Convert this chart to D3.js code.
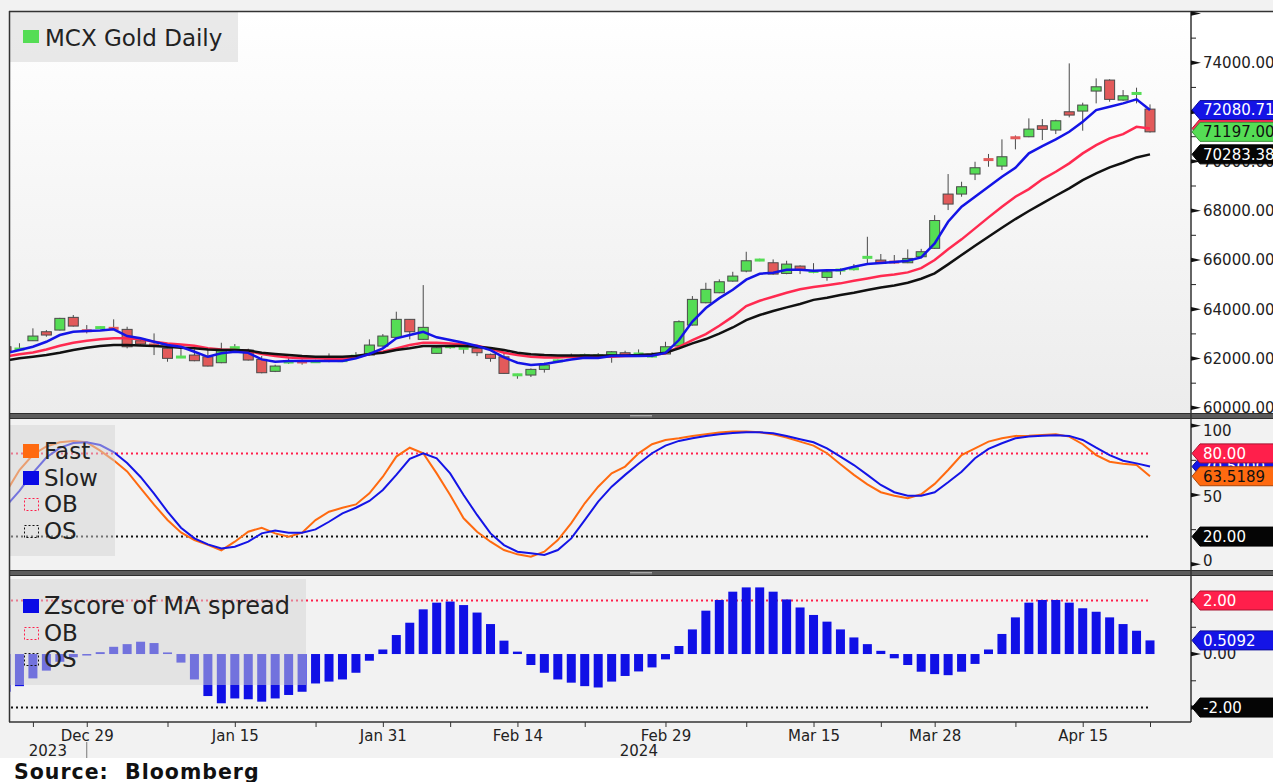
<!DOCTYPE html>
<html>
<head>
<meta charset="utf-8">
<script src="https://cdn.jsdelivr.net/npm/d3@7"></script>
<style>
body { margin: 0; background: #f2f2f2; }
svg { display: block; font-family: "DejaVu Sans", Verdana, sans-serif; }
</style>
</head>
<body>
<div id="chart"></div>
<script>
// trading days shown on the chart (first one sits just left of the frame)
var dates = ["2023-12-20","2023-12-21","2023-12-22","2023-12-26","2023-12-27","2023-12-28","2023-12-29",
    "2024-01-01","2024-01-02","2024-01-03","2024-01-04","2024-01-05","2024-01-08","2024-01-09","2024-01-10","2024-01-11","2024-01-12",
    "2024-01-15","2024-01-16","2024-01-17","2024-01-18","2024-01-19","2024-01-22","2024-01-23","2024-01-24","2024-01-25","2024-01-29","2024-01-30","2024-01-31",
    "2024-02-01","2024-02-02","2024-02-05","2024-02-06","2024-02-07","2024-02-08","2024-02-09","2024-02-12","2024-02-13","2024-02-14","2024-02-15","2024-02-16",
    "2024-02-19","2024-02-20","2024-02-21","2024-02-22","2024-02-23","2024-02-26","2024-02-27","2024-02-28","2024-02-29",
    "2024-03-01","2024-03-04","2024-03-05","2024-03-06","2024-03-07","2024-03-08","2024-03-11","2024-03-12","2024-03-13","2024-03-14","2024-03-15",
    "2024-03-18","2024-03-19","2024-03-20","2024-03-21","2024-03-22","2024-03-25","2024-03-26","2024-03-27","2024-03-28",
    "2024-04-01","2024-04-02","2024-04-03","2024-04-04","2024-04-05","2024-04-08","2024-04-09","2024-04-10","2024-04-11","2024-04-12",
    "2024-04-15","2024-04-16","2024-04-17","2024-04-18","2024-04-19","2024-04-22"];

var openPx = [62478,62350,62722,63087,63155,63670,63140,63230,63260,63183,
    62722,62560,62413,62040,62141,62070,61830,62400,62345,61965,
    61480,61803,61870,61850,61950,61900,62080,62141,62506,62860,
    63590,62778,62210,62470,62400,62413,62170,62070,61320,61330,
    61560,61880,62060,62110,62100,62141,62235,62170,62090,62184,
    62510,63358,64263,64669,65142,65548,65980,65886,65453,65751,
    65480,65291,65580,65589,66080,65995,65967,65886,66130,66472,
    68673,68673,69485,70120,69809,70998,70998,71444,71270,72012,
    72040,72852,73298,72487,72740,72120];
var highPx = [62520,62620,63225,63155,63650,63765,63358,63300,63590,63290,
    62750,63020,62430,62478,62370,62413,62640,62587,62400,62100,
    61750,62046,61960,61950,62208,61960,62260,62778,62993,63900,
    63600,64980,62470,62560,62440,62520,62200,62275,61380,61600,
    61830,61960,62200,62200,62220,62300,62316,62370,62250,62680,
    63550,64534,65075,65213,65520,66333,66050,66022,65967,65780,
    65870,65560,65660,65833,66940,66240,66200,66430,66450,67818,
    69485,69173,69984,70300,70892,71050,71744,71716,71690,73975,
    72380,73367,73330,72893,72989,72312];
var lowPx = [62280,62330,62710,62885,63140,63300,63020,63200,63170,62413,
    62520,62141,61870,62020,61890,61680,61810,62380,61920,61400,
    61450,61780,61750,61820,61850,61880,62030,62120,62480,62840,
    62778,62760,62200,62400,62200,62100,61870,61380,61180,61250,
    61430,61860,62020,62080,62080,61830,62080,62160,62040,62170,
    62500,63340,64240,64650,65120,65500,65950,65400,65420,65427,
    65460,65156,65400,65570,65833,65840,65840,65870,66110,66450,
    68024,68565,69241,69781,69647,70487,70980,70864,71107,71785,
    71243,72353,72420,72460,72353,71170];
var closePx = [62316,62420,62912,62953,63630,63317,63120,63280,63190,62478,
    62587,62540,62007,62080,61911,61695,62316,62478,61939,61424,
    61695,61911,61850,61890,61980,61930,62110,62547,62912,63590,
    63087,63265,62440,62490,62430,62235,62007,61397,61360,61560,
    61736,61930,62080,62130,62120,62275,62100,62200,62110,62478,
    63495,64400,64807,65115,65345,65967,66010,65427,65832,65589,
    65589,65520,65600,65700,66130,65860,65860,66062,66333,67600,
    68267,68970,69741,70024,70187,70917,71310,71298,71647,71878,
    72284,73026,72515,72660,72770,71197];

// moving averages on the price panel
var maFast = [62220,62345,62478,62680,62953,63087,63115,63140,63183,62912,
    62820,62680,62547,62478,62275,62070,62210,62275,62230,61965,
    61870,61897,61897,61897,61897,61897,62007,62184,62413,62820,
    62953,63087,62860,62750,62640,62506,62340,62046,61830,61736,
    61776,61870,61965,62030,62020,62100,62110,62100,62110,62230,
    62750,63500,64050,64450,64790,65200,65440,65480,65600,65600,
    65560,65580,65590,65724,65833,65873,65914,65967,66103,66671,
    67549,68158,68564,68970,69375,69740,70324,70620,70892,71200,
    71606,72081,72215,72353,72515,72080.71];
var maMid = [62080,62170,62248,62370,62519,62640,62722,62778,62820,62820,
    62778,62680,62615,62574,62519,62413,62370,62345,62310,62184,
    62100,62046,62007,62007,61993,61993,62046,62184,62275,62413,
    62547,62640,62640,62613,62574,62520,62400,62235,62141,62073,
    62046,62046,62073,62073,62073,62073,62100,62110,62141,62210,
    62478,62750,62990,63330,63700,64130,64345,64507,64670,64807,
    64900,64970,65050,65156,65250,65345,65410,65495,65670,65995,
    66430,66835,67280,67727,68158,68564,68875,69270,69578,69919,
    70324,70661,70932,71107,71403,71337];
var maSlow = [61920,62007,62070,62141,62235,62345,62440,62506,62547,62547,
    62533,62506,62478,62440,62413,62370,62345,62345,62330,62235,
    62184,62141,62100,62073,62073,62073,62100,62184,62235,62345,
    62413,62506,62506,62506,62506,62480,62430,62345,62235,62170,
    62141,62127,62127,62127,62127,62127,62127,62141,62170,62235,
    62413,62615,62790,63010,63260,63560,63765,63927,64076,64210,
    64380,64470,64575,64670,64780,64886,64967,65075,65237,65454,
    65820,66198,66575,66940,67306,67659,67984,68294,68605,68905,
    69241,69513,69756,69943,70160,70283.38];

// stochastic panel
var stochFast = [52,68,79,85,88,89,88,82,75,67,
    55,43,32,23,17.5,14,10,16.3,23.5,26.4,
    22.3,19.9,22.8,31.9,37.9,40.8,43.2,51.2,63.2,77.7,
    84.1,80.1,65.6,50,33.2,23.5,16.3,10.3,7.2,5.5,
    9.1,17.5,29.7,44,56,65.6,70.5,80,86.6,89.7,
    90.9,92.6,93.8,95,95.7,95.7,95.2,93.8,91.4,88.5,
    85.6,80.1,72.1,64.5,57.7,52,49.5,47.6,50.5,58,
    68,78.8,83.6,88.5,90.9,92.6,92.8,93.3,93.8,92.1,
    86.6,78.8,74,72.6,71.6,63.5189];
var stochSlow = [42,53,66,77,84,87.5,88,86,81,73,
    63,51,38,26.4,18.7,14.4,11.5,12.7,16.3,22.3,
    24.3,22.8,22.8,25.2,30.7,36.7,40.8,45.7,53.6,64.5,
    76,80.1,76.5,65.6,50,35.6,22.3,13.9,9.1,7.9,
    6.7,10.3,18.7,31.9,45.2,56,64.5,72.5,80.1,85.6,
    89,90.9,92.6,93.8,94.7,95.2,95.2,94.5,92.6,90.2,
    88,83.6,77.7,71.6,64.5,57.2,52,49.5,49.5,52,
    59.2,66.8,76.5,83.2,87.3,90.9,92.1,92.8,93.1,92.6,
    89.7,84.1,78.8,74.7,72.8,70.5];
var stochOB = 80, stochOS = 20;

// zscore of MA spread
var zscore = [-1.41,-1.20,-0.91,-0.62,-0.29,-0.12,-0.05,0.07,0.27,0.37,
    0.46,0.41,0.06,-0.32,-0.95,-1.57,-1.84,-1.66,-1.69,-1.78,
    -1.66,-1.53,-1.41,-1.10,-1.03,-0.95,-0.70,-0.25,0.17,0.71,
    1.17,1.67,1.92,1.96,1.83,1.55,1.12,0.50,0.09,-0.41,
    -0.70,-0.95,-1.07,-1.20,-1.25,-1.03,-0.82,-0.65,-0.50,-0.20,
    0.30,0.92,1.62,2.02,2.33,2.49,2.49,2.33,2.04,1.74,
    1.46,1.21,0.92,0.62,0.37,0.12,-0.16,-0.41,-0.66,-0.75,
    -0.79,-0.66,-0.37,0.17,0.75,1.37,1.92,2.02,2.02,1.92,
    1.71,1.58,1.37,1.12,0.87,0.5092];
var zOB = 2, zOS = -2;

// x axis ticks (blank ones are unlabeled tick marks)
var tickDates = ["2023-12-22","2023-12-29","2024-01-08","2024-01-15","2024-01-23","2024-01-31","2024-02-07","2024-02-14",
    "2024-02-21","2024-02-29","2024-03-08","2024-03-15","2024-03-22","2024-03-28","2024-04-08","2024-04-15","2024-04-22"];
var tickNames = ["","Dec 29","","Jan 15","","Jan 31","","Feb 14","","Feb 29","","Mar 15","","Mar 28","","Apr 15",""];
var yearNames = ["2023", "2024"];

var priceTicks = [60000,62000,64000,66000,68000,70000,72000,74000,76000];
var priceMinor = [61000,63000,65000,67000,69000,71000,73000,75000];

var W = 1273, H = 782;
var plotL = 9, plotR = 1191;
var pricePanel = {top: 12, bottom: 413};
var stochPanel = {top: 419, bottom: 570};
var zPanel = {top: 576, bottom: 722};

var svg = d3.select("#chart").append("svg")
    .attr("width", W)
    .attr("height", H);

var x = d3.scalePoint().domain(dates).range([6, 1150]);
var yPrice = d3.scaleLinear().domain([59790, 76060]).range([pricePanel.bottom, pricePanel.top]);
var yStoch = d3.scaleLinear().domain([-4.1, 104.8]).range([stochPanel.bottom, stochPanel.top]);
var yZ = d3.scaleLinear().domain([-2.54, 2.916]).range([zPanel.bottom, zPanel.top]);

var defs = svg.append("defs");
var grad = defs.append("linearGradient").attr("id", "topGrad")
    .attr("x1", 0).attr("y1", 0).attr("x2", 0).attr("y2", 1);
grad.append("stop").attr("offset", "0%").attr("stop-color", "#ffffff");
grad.append("stop").attr("offset", "100%").attr("stop-color", "#ececec");

[pricePanel, stochPanel, zPanel].forEach(function(p, i) {
    defs.append("clipPath").attr("id", "clip" + i)
        .append("rect")
        .attr("x", plotL).attr("y", p.top)
        .attr("width", plotR - plotL).attr("height", p.bottom - p.top);
});

// backgrounds
svg.append("rect").attr("width", W).attr("height", H).attr("fill", "#f2f2f2");
svg.append("rect").attr("x", 0).attr("y", 758).attr("width", W).attr("height", H - 758).attr("fill", "#ffffff");
svg.append("rect").attr("x", plotL).attr("y", pricePanel.top)
    .attr("width", plotR - plotL).attr("height", pricePanel.bottom - pricePanel.top)
    .attr("fill", "url(#topGrad)");
svg.append("rect").attr("x", plotR).attr("y", pricePanel.top)
    .attr("width", W - plotR).attr("height", pricePanel.bottom - pricePanel.top)
    .attr("fill", "#ffffff");

// ---------- price panel ----------
var candles = dates.map(function(d, i) {
    return {date: d, o: openPx[i], h: highPx[i], l: lowPx[i], c: closePx[i]};
});

var priceG = svg.append("g").attr("clip-path", "url(#clip0)");

priceG.selectAll("line.wick")
    .data(candles)
    .enter()
    .append("line")
    .attr("class", "wick")
    .attr("x1", function(d) { return x(d.date); })
    .attr("x2", function(d) { return x(d.date); })
    .attr("y1", function(d) { return yPrice(d.h); })
    .attr("y2", function(d) { return yPrice(d.l); })
    .attr("stroke", "#4a4a4a")
    .attr("stroke-width", 1);

priceG.selectAll("rect.body")
    .data(candles)
    .enter()
    .append("rect")
    .attr("class", "body")
    .each(function(d) {
        var top = yPrice(Math.max(d.o, d.c));
        var bot = yPrice(Math.min(d.o, d.c));
        var r = d3.select(this)
            .attr("fill", d.c >= d.o ? "#55dd55" : "#e25a5a");
        if (bot - top < 3) {//doji: just a coloured dash
            r.attr("x", x(d.date) - 5).attr("width", 10)
                .attr("y", (top + bot) / 2 - 1.5).attr("height", 3);
        } else {
            r.attr("x", x(d.date) - 5).attr("width", 10)
                .attr("y", top).attr("height", bot - top)
                .attr("stroke", "#4a4a4a").attr("stroke-width", 1);
        }
    });

var priceLine = function(arr) {
    return d3.line()
        .x(function(d, i) { return x(dates[i]); })
        .y(function(d) { return yPrice(d); })(arr);
};
priceG.append("path").attr("d", priceLine(maMid)).attr("fill", "none").attr("stroke", "#ff2a50").attr("stroke-width", 2.5);
priceG.append("path").attr("d", priceLine(maSlow)).attr("fill", "none").attr("stroke", "#111111").attr("stroke-width", 2.5);
priceG.append("path").attr("d", priceLine(maFast)).attr("fill", "none").attr("stroke", "#1414e6").attr("stroke-width", 2.5);

// ---------- stochastic panel ----------
var stochG = svg.append("g").attr("clip-path", "url(#clip1)");
var stochLine = d3.line()
    .x(function(d, i) { return x(dates[i]); })
    .y(function(d) { return yStoch(d); });

stochG.append("line")
    .attr("x1", x(dates[0])).attr("x2", x(dates[dates.length - 1]))
    .attr("y1", yStoch(stochOB)).attr("y2", yStoch(stochOB))
    .attr("stroke", "#ff1f4b").attr("stroke-width", 2).attr("stroke-dasharray", "2,3");
stochG.append("line")
    .attr("x1", x(dates[0])).attr("x2", x(dates[dates.length - 1]))
    .attr("y1", yStoch(stochOS)).attr("y2", yStoch(stochOS))
    .attr("stroke", "#111").attr("stroke-width", 2).attr("stroke-dasharray", "2,3");
stochG.append("path").attr("d", stochLine(stochFast)).attr("fill", "none").attr("stroke", "#ff6a10").attr("stroke-width", 2);
stochG.append("path").attr("d", stochLine(stochSlow)).attr("fill", "none").attr("stroke", "#1414e6").attr("stroke-width", 2);

// ---------- zscore panel ----------
var zG = svg.append("g").attr("clip-path", "url(#clip2)");
zG.append("line")
    .attr("x1", x(dates[0])).attr("x2", x(dates[dates.length - 1]))
    .attr("y1", yZ(zOB)).attr("y2", yZ(zOB))
    .attr("stroke", "#ff1f4b").attr("stroke-width", 2).attr("stroke-dasharray", "2,3");
zG.append("line")
    .attr("x1", x(dates[0])).attr("x2", x(dates[dates.length - 1]))
    .attr("y1", yZ(zOS)).attr("y2", yZ(zOS))
    .attr("stroke", "#111").attr("stroke-width", 2).attr("stroke-dasharray", "2,3");
zG.selectAll("rect.bar")
    .data(zscore)
    .enter()
    .append("rect")
    .attr("class", "bar")
    .attr("x", function(d, i) { return x(dates[i]) - 4.5; })
    .attr("width", 9)
    .attr("y", function(d) { return Math.min(yZ(d), yZ(0)); })
    .attr("height", function(d) { return Math.max(1.5, Math.abs(yZ(d) - yZ(0))); })
    .attr("fill", "#1010e6");

// ---------- legends (semi transparent boxes) ----------
var legFill = "rgba(212,212,212,0.5)";
svg.append("rect").attr("x", 10).attr("y", 12).attr("width", 228).attr("height", 50).attr("fill", legFill);
svg.append("rect").attr("x", 23).attr("y", 30).attr("width", 16).attr("height", 13).attr("fill", "#55dd55");
svg.append("text").attr("x", 45).attr("y", 46).attr("font-size", 23).attr("fill", "#222").text("MCX Gold Daily");

function legend(x0, y0, w, h, items) {
    svg.append("rect").attr("x", x0).attr("y", y0).attr("width", w).attr("height", h).attr("fill", legFill);
    items.forEach(function(it) {
        var sq = svg.append("rect");
        if (it.dotted) {
            sq.attr("x", 24.5).attr("y", it.y - 13.5).attr("width", 14).attr("height", 12)
                .attr("fill", "none").attr("stroke", it.color).attr("stroke-width", 1).attr("stroke-dasharray", "2,2");
        } else {
            sq.attr("x", 23).attr("y", it.y - 15).attr("width", 16).attr("height", 14).attr("fill", it.color);
        }
        svg.append("text").attr("x", 44).attr("y", it.y).attr("font-size", it.size || 23).attr("fill", "#222").text(it.name);
    });
}
legend(10, 425, 105, 131, [
    {name: "Fast", color: "#ff6a10", y: 459},
    {name: "Slow", color: "#0a0ae6", y: 486},
    {name: "OB", color: "#ff1f4b", y: 512, dotted: true},
    {name: "OS", color: "#111", y: 539, dotted: true}
]);
legend(10, 579, 296, 106, [
    {name: "Zscore of MA spread", color: "#0a0ae6", y: 614, size: 24},
    {name: "OB", color: "#ff1f4b", y: 641, dotted: true},
    {name: "OS", color: "#111", y: 667, dotted: true}
]);

// ---------- frame, separators ----------
[pricePanel.bottom, stochPanel.bottom].forEach(function(y) {
    svg.append("rect").attr("x", plotL).attr("y", y).attr("width", W - plotL).attr("height", 6).attr("fill", "#5c5c5c");
    svg.append("line").attr("x1", plotL).attr("x2", W).attr("y1", y + 0.5).attr("y2", y + 0.5).attr("stroke", "#2e2e2e");
    svg.append("line").attr("x1", plotL).attr("x2", W).attr("y1", y + 5.5).attr("y2", y + 5.5).attr("stroke", "#2e2e2e");
    svg.append("line").attr("x1", 630).attr("x2", 652).attr("y1", y + 2.5).attr("y2", y + 2.5).attr("stroke", "#a8a8a8");
    svg.append("line").attr("x1", 630).attr("x2", 652).attr("y1", y + 3.8).attr("y2", y + 3.8).attr("stroke", "#8c8c8c");
});
svg.append("line").attr("x1", plotL).attr("x2", W).attr("y1", 11.5).attr("y2", 11.5).attr("stroke", "#333").attr("stroke-width", 1.5);
svg.append("line").attr("x1", plotL + 0.5).attr("x2", plotL + 0.5).attr("y1", 11).attr("y2", zPanel.bottom).attr("stroke", "#333").attr("stroke-width", 1.5);
svg.append("line").attr("x1", plotR).attr("x2", plotR).attr("y1", 11).attr("y2", zPanel.bottom).attr("stroke", "#333").attr("stroke-width", 1.5);
svg.append("line").attr("x1", plotL).attr("x2", plotR).attr("y1", zPanel.bottom).attr("y2", zPanel.bottom).attr("stroke", "#333").attr("stroke-width", 1.5);

// ---------- right axes ----------
function rightAxis(scale, majors, minors, fmt, hideLabels, shiftFn) {
    var g = svg.append("g").attr("transform", "translate(" + plotR + ",0)");
    g.call(d3.axisRight(scale).tickValues(majors.filter(function(d) { return hideLabels.indexOf(d) < 0; }))
        .tickSize(0).tickPadding(12).tickFormat(fmt));
    g.select(".domain").remove();
    g.selectAll("text").attr("font-size", 15).attr("fill", "#222").attr("font-family", "DejaVu Sans, Verdana, sans-serif")
        .attr("dy", function(d) { return shiftFn ? shiftFn(d) : "0.32em"; });
    g.selectAll("path.major").data(majors).enter().append("path")
        .attr("d", function(d) { var y = scale(d); return "M0," + (y - 2.2) + "L10," + y + "L0," + (y + 2.2) + "Z"; })
        .attr("fill", "#111");
    g.selectAll("line.minor").data(minors).enter().append("line")
        .attr("x1", 0).attr("x2", 5)
        .attr("y1", function(d) { return scale(d); }).attr("y2", function(d) { return scale(d); })
        .attr("stroke", "#222");
}
rightAxis(yPrice, priceTicks, priceMinor, function(d) { return d.toFixed(2); }, [76000]);
rightAxis(yStoch, [0, 50, 100], [25, 75], function(d) { return String(d); }, [], function(d) {
    if (d === 100) return "0.65em";
    if (d === 0) return "0.1em";
    return "0.42em";
});
rightAxis(yZ, [-2, 0, 2], [-1, 1], function(d) { return d.toFixed(2); }, []);

// value tags at the right edge
function tag(y, fill, textColor, label) {
    var g = svg.append("g").attr("transform", "translate(0," + y + ")");
    g.append("path")
        .attr("d", "M1192,0L1200,-9.5L1280,-9.5L1280,9.5L1200,9.5Z")
        .attr("fill", fill)
        .attr("stroke", d3.color(fill).darker(1.2))
        .attr("stroke-width", 1);
    g.append("text").attr("x", 1203).attr("dy", "0.36em")
        .attr("font-size", 15).attr("fill", textColor).text(label);
}
var last = dates.length - 1;
tag(yPrice(maMid[last]), "#ff2a50", "#fff", maMid[last].toFixed(2));
tag(yPrice(maFast[last]), "#1414e6", "#fff", maFast[last].toFixed(2));
tag(yPrice(maSlow[last]), "#050505", "#fff", maSlow[last].toFixed(2));
tag(yPrice(closePx[last]), "#55dd55", "#111", closePx[last].toFixed(2));

tag(yStoch(stochSlow[last]), "#1414e6", "#fff", stochSlow[last].toFixed(4));
tag(yStoch(stochOB), "#ff1f4b", "#fff", stochOB.toFixed(2));
tag(yStoch(stochFast[last]), "#ff6a10", "#111", stochFast[last].toFixed(4));
tag(yStoch(stochOS), "#050505", "#fff", stochOS.toFixed(2));

tag(yZ(zOB), "#ff1f4b", "#fff", zOB.toFixed(2));
tag(yZ(zscore[last]), "#1414e6", "#fff", zscore[last].toFixed(4));
tag(yZ(zOS), "#050505", "#fff", zOS.toFixed(2));

// ---------- x axis ----------
var xAxisG = svg.append("g").attr("transform", "translate(0," + zPanel.bottom + ")");
xAxisG.call(d3.axisBottom(x).tickValues(tickDates).tickSize(5).tickPadding(3)
    .tickFormat(function(d) { return tickNames[tickDates.indexOf(d)]; }));
xAxisG.select(".domain").remove();
xAxisG.selectAll("line").attr("stroke", "#333");
xAxisG.selectAll("text").attr("font-size", 15).attr("fill", "#222").attr("font-family", "DejaVu Sans, Verdana, sans-serif");

var yearSplit = x("2023-12-29");
svg.append("line").attr("x1", yearSplit).attr("x2", yearSplit).attr("y1", 742).attr("y2", 758).attr("stroke", "#777");
svg.append("text").attr("x", (plotL + yearSplit) / 2).attr("y", 756).attr("text-anchor", "middle")
    .attr("font-size", 15).attr("fill", "#222").text(yearNames[0]);
svg.append("text").attr("x", (yearSplit + plotR) / 2).attr("y", 756).attr("text-anchor", "middle")
    .attr("font-size", 15).attr("fill", "#222").text(yearNames[1]);

// footer
svg.append("text").attr("x", 14).attr("y", 779)
    .attr("font-size", 20.5).attr("font-weight", "bold").attr("fill", "#111")
    .attr("letter-spacing", 1)
    .style("white-space", "pre")
    .text("Source:  Bloomberg");
</script>
</body>
</html>
